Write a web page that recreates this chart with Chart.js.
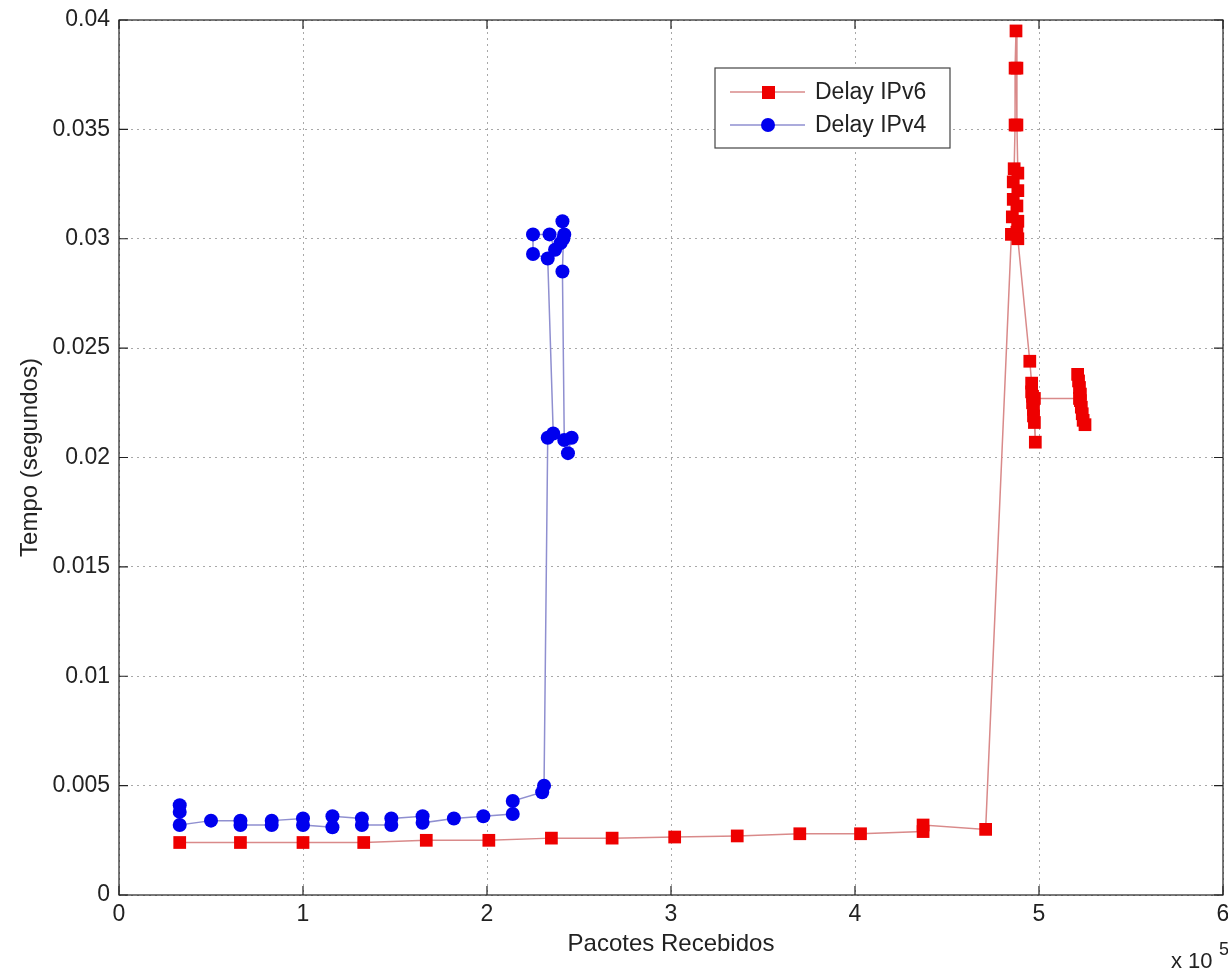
<!DOCTYPE html>
<html><head><meta charset="utf-8">
<script src="https://cdn.jsdelivr.net/npm/chart.js@4"></script>
<style>html,body{margin:0;padding:0;background:#fff;overflow:hidden}#wrap{width:1228px;height:972px}</style>
</head><body><div id="wrap"><canvas id="c" width="1228" height="972"></canvas></div>
<script>
// IPv6 delay series
const ipv6X = [33000,66000,100000,133000,167000,201000,235000,268000,302000,336000,370000,403000,437000,437000,471000,
  485000,485500,486000,486000,486500,487000,487000,487500,488000,488000,488500,488500,488000,488500,488000,488500,
  495000,496000,496000,496500,496500,497000,497000,497500,498000,497500,522000,521000,521500,522000,522500,522500,523000,523500,524000,525000];
const ipv6Y = [0.0024,0.0024,0.0024,0.0024,0.0025,0.0025,0.0026,0.0026,0.00265,0.0027,0.0028,0.0028,0.0029,0.0032,0.0030,
  0.0302,0.0310,0.0318,0.0326,0.0332,0.0352,0.0378,0.0395,0.0378,0.0352,0.0330,0.0322,0.0315,0.0308,0.0303,0.0300,
  0.0244,0.0234,0.0230,0.0228,0.0225,0.0222,0.0219,0.0216,0.0207,0.0227,0.0227,0.0238,0.0235,0.0232,0.0229,0.0226,0.0223,0.0220,0.0217,0.0215];
// IPv4 delay series
const ipv4X = [33000,33000,33000,50000,66000,66000,83000,83000,100000,100000,116000,116000,132000,132000,148000,148000,165000,165000,182000,198000,214000,214000,230000,231000,
  233000,236000,233000,225000,225000,234000,237000,240000,242000,241000,241500,241000,242000,246000,244000];
const ipv4Y = [0.0041,0.0038,0.0032,0.0034,0.0034,0.0032,0.0032,0.0034,0.0035,0.0032,0.0031,0.0036,0.0035,0.0032,0.0032,0.0035,0.0036,0.0033,0.0035,0.0036,0.0037,0.0043,0.0047,0.0050,
  0.0209,0.0211,0.0291,0.0293,0.0302,0.0302,0.0295,0.0298,0.0302,0.0308,0.0300,0.0285,0.0208,0.0209,0.0202];
const seriesNames = ['Delay IPv6','Delay IPv4'];
const xTicks = [0,100000,200000,300000,400000,500000,600000];
const yTicks = [0,0.005,0.01,0.015,0.02,0.025,0.03,0.035,0.04];

const toPts = (xs, ys) => xs.map((x, i) => ({x, y: ys[i]}));
const FONT = 'Liberation Sans, Arial, sans-serif';

const deco = {
  id: 'deco',
  afterDraw(chart) {
    const {ctx, chartArea: a, scales: {x, y}} = chart;
    ctx.save();
    ctx.strokeStyle = '#222'; ctx.lineWidth = 1.2;
    ctx.strokeRect(a.left, a.top, a.right - a.left, a.bottom - a.top);
    ctx.beginPath();
    xTicks.forEach(v => { const p = x.getPixelForValue(v); ctx.moveTo(p, a.bottom); ctx.lineTo(p, a.bottom - 9); ctx.moveTo(p, a.top); ctx.lineTo(p, a.top + 9); });
    yTicks.forEach(v => { const p = y.getPixelForValue(v); ctx.moveTo(a.left, p); ctx.lineTo(a.left + 9, p); ctx.moveTo(a.right, p); ctx.lineTo(a.right - 9, p); });
    ctx.stroke();
    // exponent label
    ctx.fillStyle = '#222'; ctx.font = '22px ' + FONT; ctx.textBaseline = 'alphabetic'; ctx.textAlign = 'left';
    ctx.fillText('x 10', 1171, 968);
    ctx.font = '18px ' + FONT; ctx.fillText('5', 1219, 955);
    // legend
    const lx = 715, ly = 68, lw = 235, lh = 80;
    ctx.fillStyle = '#fff'; ctx.fillRect(lx, ly, lw, lh);
    ctx.strokeStyle = '#444'; ctx.lineWidth = 1.2; ctx.strokeRect(lx, ly, lw, lh);
    chart.data.datasets.forEach((ds, i) => {
      const yy = ly + 24 + i * 33;
      ctx.strokeStyle = ds.borderColor; ctx.lineWidth = 1.5;
      ctx.beginPath(); ctx.moveTo(lx + 15, yy); ctx.lineTo(lx + 90, yy); ctx.stroke();
      ctx.fillStyle = ds.pointBackgroundColor;
      if (ds.pointStyle === 'rect') { ctx.fillRect(lx + 47, yy - 6, 13, 13); }
      else { ctx.beginPath(); ctx.arc(lx + 53, yy, 7, 0, Math.PI * 2); ctx.fill(); }
      ctx.fillStyle = '#222'; ctx.font = '23px ' + FONT; ctx.textBaseline = 'middle';
      ctx.fillText(ds.label, lx + 100, yy + 1);
    });
    ctx.restore();
  }
};

new Chart(document.getElementById('c'), {
  type: 'line',
  data: {
    datasets: [
      {label: seriesNames[0], data: toPts(ipv6X, ipv6Y), borderColor: '#d98a8a', borderWidth: 1.5, pointStyle: 'rect',
       pointRadius: 9, pointBackgroundColor: '#ee0000', pointBorderColor: '#ee0000', pointBorderWidth: 0, tension: 0},
      {label: seriesNames[1], data: toPts(ipv4X, ipv4Y), borderColor: '#8f8fd0', borderWidth: 1.5, pointStyle: 'circle',
       pointRadius: 7, pointBackgroundColor: '#0000ee', pointBorderColor: '#0000ee', pointBorderWidth: 0, tension: 0}
    ]
  },
  options: {
    responsive: false, animation: false,
    layout: {autoPadding: false, padding: {top: 20, right: 5, left: 0, bottom: 13}},
    plugins: {legend: {display: false}, tooltip: {enabled: false}},
    scales: {
      x: {type: 'linear', min: 0, max: 600000,
        afterBuildTicks: s => { s.ticks = xTicks.map(v => ({value: v})); },
        afterFit: s => { s.height = 64; s.paddingLeft = 0; s.paddingRight = 0; },
        ticks: {callback: v => String(v / 100000), color: '#222', font: {size: 23, family: FONT}, padding: 6, maxRotation: 0},
        grid: {color: '#a8a8a8', lineWidth: 1, drawTicks: false},
        border: {display: false, dash: [2, 4]},
        title: {display: true, text: 'Pacotes Recebidos', color: '#222', font: {size: 24, family: FONT}, padding: {top: 4, bottom: 0}}
      },
      y: {type: 'linear', min: 0, max: 0.04,
        afterBuildTicks: s => { s.ticks = yTicks.map(v => ({value: v})); },
        afterFit: s => { s.width = 119; s.paddingTop = 0; s.paddingBottom = 0; },
        ticks: {callback: v => (v === 0 ? '0' : String(+v.toFixed(3))), color: '#222', font: {size: 23, family: FONT}, padding: 9},
        grid: {color: '#a8a8a8', lineWidth: 1, drawTicks: false},
        border: {display: false, dash: [2, 4]},
        title: {display: true, text: 'Tempo (segundos)', color: '#222', font: {size: 24, family: FONT}, padding: {top: 16, bottom: 0}}
      }
    }
  },
  plugins: [deco]
});
</script></body></html>
